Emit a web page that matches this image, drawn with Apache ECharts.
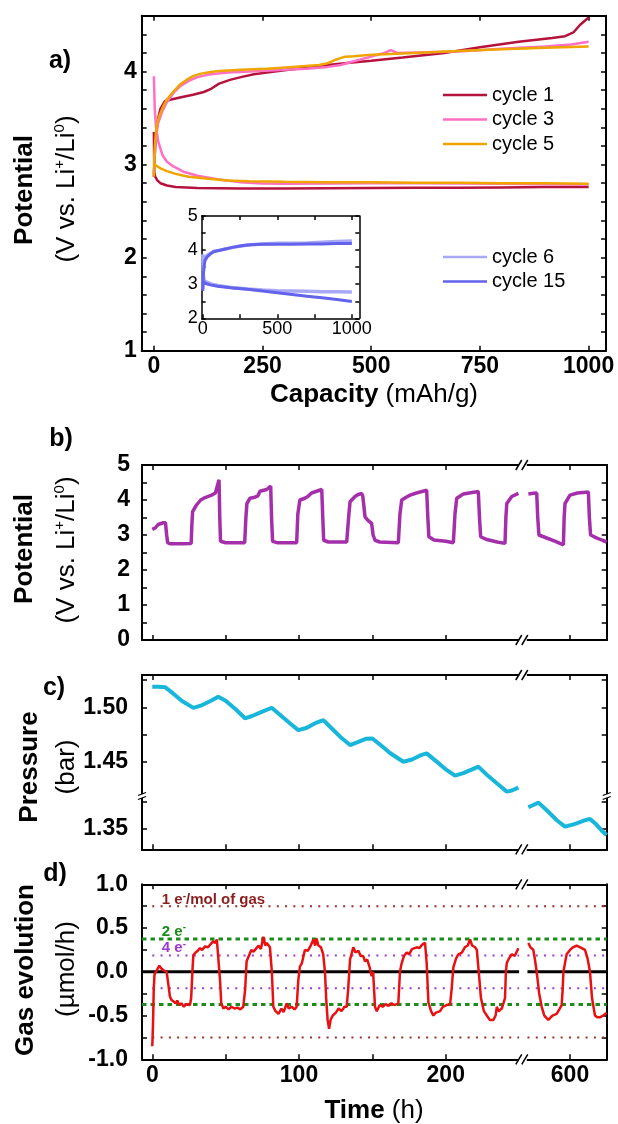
<!DOCTYPE html>
<html><head><meta charset="utf-8">
<script src="https://cdn.jsdelivr.net/npm/echarts@6/dist/echarts.min.js"></script>
<style>html,body{margin:0;padding:0;background:#fff}#c{width:618px;height:1124px}</style>
</head><body><div id="c"></div>
<script>
// ---------------- DATA ----------------
// Panel a: capacity (mAh/g) vs potential (V)
const c1Dis = [[0,3.35],[0.5,3.1],[1,2.92],[3,2.87],[8,2.83],[15,2.8],[30,2.775],[50,2.76],[100,2.748],[200,2.742],[300,2.742],[400,2.745],[500,2.748],[600,2.75],[700,2.752],[800,2.755],[900,2.758],[1000,2.76]];
const c1Chg = [[0,2.87],[1,3.0],[3,3.2],[6,3.38],[10,3.5],[15,3.6],[25,3.68],[40,3.7],[60,3.72],[90,3.75],[115,3.78],[130,3.81],[150,3.87],[175,3.91],[200,3.94],[230,3.97],[260,3.99],[300,4.015],[350,4.04],[400,4.07],[450,4.095],[500,4.115],[572,4.15],[668,4.2],[750,4.26],[839,4.32],[916,4.36],[946,4.38],[965,4.42],[980,4.5],[1000,4.58]];
const c3Dis = [[0,3.95],[2,3.6],[5,3.4],[10,3.25],[20,3.1],[30,3.03],[45,2.98],[70,2.92],[100,2.88],[150,2.84],[200,2.81],[250,2.797],[300,2.795],[400,2.798],[500,2.8],[600,2.8],[700,2.798],[800,2.795],[900,2.79],[1000,2.785]];
const c3Chg = [[0,2.9],[2,3.1],[5,3.3],[10,3.45],[20,3.58],[30,3.67],[45,3.77],[60,3.84],[80,3.9],[100,3.94],[130,3.97],[170,3.99],[220,4.0],[300,4.02],[350,4.03],[400,4.05],[430,4.07],[460,4.11],[500,4.16],[530,4.2],[545,4.23],[560,4.2],[600,4.205],[700,4.215],[800,4.245],[900,4.27],[960,4.29],[1000,4.32]];
const c5Dis = [[0,3.0],[5,2.99],[15,2.96],[30,2.93],[50,2.9],[80,2.87],[120,2.85],[170,2.83],[220,2.82],[300,2.815],[400,2.81],[500,2.81],[600,2.805],[700,2.805],[800,2.8],[900,2.8],[1000,2.795]];
const c5Chg = [[0,2.87],[1,3.1],[3,3.25],[6,3.41],[12,3.52],[21,3.62],[30,3.7],[44,3.78],[60,3.86],[75,3.91],[90,3.95],[106,3.975],[130,3.995],[152,4.007],[200,4.02],[260,4.03],[320,4.05],[380,4.07],[400,4.09],[420,4.13],[440,4.16],[460,4.165],[500,4.18],[600,4.2],[700,4.22],[800,4.24],[900,4.255],[1000,4.27]];
// inset
const c6Chg = [[0,2.85],[3,3.3],[8,3.6],[15,3.75],[30,3.85],[50,3.9],[80,3.97],[120,4.0],[200,4.08],[300,4.15],[400,4.18],[500,4.2],[600,4.2],[700,4.21],[800,4.23],[900,4.25],[1000,4.27]];
const c6Dis = [[0,3.88],[3,3.3],[10,3.1],[30,3.05],[60,3.0],[100,2.96],[200,2.9],[300,2.86],[400,2.83],[500,2.81],[600,2.8],[700,2.79],[800,2.78],[900,2.78],[1000,2.77]];
const c15Chg = [[0,2.8],[3,3.2],[8,3.5],[15,3.7],[30,3.8],[50,3.88],[70,3.95],[100,3.98],[150,4.03],[200,4.08],[260,4.13],[320,4.16],[400,4.17],[500,4.17],[600,4.17],[700,4.18],[800,4.18],[900,4.19],[1000,4.19]];
const c15Dis = [[0,3.1],[5,3.05],[20,3.02],[50,2.98],[100,2.94],[200,2.89],[300,2.85],[400,2.8],[500,2.75],[600,2.7],[700,2.65],[800,2.6],[900,2.55],[1000,2.49]];

// Panel b: time (h) vs potential (V); left and right of the axis break
const potL = [[0,3.16],[2,3.2],[4,3.3],[7.5,3.35],[9,3.35],[9.8,3.0],[10.5,2.78],[12,2.75],[20,2.75],[26.5,2.76],[27,3.3],[27.5,3.67],[30,3.85],[33,4.0],[36,4.07],[40,4.13],[43,4.2],[44,4.35],[45.5,4.58],[46,3.5],[46.5,2.82],[50,2.78],[63,2.78],
[63.8,3.5],[64.5,3.9],[66.6,4.05],[70,4.08],[72,4.12],[73.4,4.25],[78,4.3],[80.7,4.4],[81.3,3.5],[82,2.82],[85,2.78],[98.4,2.78],
[99.2,3.6],[100.6,4.0],[104,4.05],[106,4.1],[108.6,4.2],[112,4.25],[115.5,4.3],[116.2,3.5],[116.8,2.85],[120,2.8],[132.5,2.8],
[134,3.6],[134.8,3.95],[138.2,4.1],[140,4.15],[142.7,4.19],[143.5,4.1],[145,3.52],[147,3.42],[149.5,3.33],[150.5,3.0],[151.8,2.85],[155,2.8],[167.7,2.78],
[168.8,3.6],[170,4.0],[173,4.08],[175.7,4.14],[180,4.2],[187,4.28],[187.8,3.5],[188.5,2.95],[192,2.86],[200,2.82],[205.2,2.78],
[206.3,3.6],[207.5,4.05],[212,4.17],[216,4.2],[222.2,4.24],[223,3.5],[223.8,2.95],[228,2.87],[235,2.8],[240.4,2.76],
[241,3.5],[241.6,3.9],[245,4.1],[249.5,4.19]];
const potR = [[571.6,4.17],[575,4.19],[577.3,4.2],[578,3.5],[578.8,3.0],[585,2.9],[590,2.82],[595.5,2.72],
[596,3.5],[596.6,3.9],[600,4.14],[605,4.2],[612.5,4.23],[613.2,3.5],[614,3.0],[618,2.92],[622,2.85],[625,2.8]];

// Panel c: pressure (bar)
const presL = [[0,1.519],[4,1.519],[8.7,1.5185],[14,1.513],[20,1.506],[28,1.4995],[33,1.5015],[40,1.506],[45,1.5097],[50,1.506],[57,1.498],[63.2,1.4899],[68,1.492],[75,1.496],[81.4,1.4996],[88,1.492],[95,1.484],[99.5,1.479],[105,1.481],[112,1.486],[116.6,1.4883],[122,1.481],[128,1.473],[134.8,1.4653],[140,1.468],[146,1.4712],[150,1.4713],[155,1.466],[162,1.458],[171.1,1.45],[177,1.452],[183,1.456],[187,1.4577],[193,1.451],[200,1.443],[206.3,1.4372],[212,1.4395],[218,1.443],[222.2,1.4455],[228,1.438],[235,1.43],[241.6,1.4225],[245,1.4235],[249.5,1.4262]];
const presR = [[571.6,1.3699],[575,1.372],[578.5,1.3742],[585,1.366],[591,1.358],[596.6,1.3521],[603,1.3545],[609,1.3575],[613.6,1.3592],[618,1.354],[622,1.348],[625,1.3445]];

// Panel d: gas evolution (µmol/h)
const gasL = [[0,-0.85],[0.5,-0.6],[1,-0.2],[1.5,-0.03],[2.5,-0.01],[3.5,0.03],[4.8,0.07],[6,0.04],[7.5,0.02],[8.5,0.03],[9.8,0.0],[11,-0.15],[12,-0.28],[13,-0.32],[14.3,-0.34],[16,-0.36],[17,-0.33],[18.5,-0.38],[20,-0.36],[21.5,-0.4],[23,-0.37],[24,-0.35],[25.7,-0.38],[26.5,-0.3],[27.5,0.05],[28,0.19],[29.5,0.22],[31,0.24],[32.5,0.27],[34,0.25],[36,0.29],[38,0.28],[40,0.32],[41.6,0.35],[43,0.33],[44,0.37],[45,0.35],[46.2,-0.1],[47,-0.36],[48.5,-0.42],[50,-0.4],[52,-0.43],[54,-0.4],[56,-0.42],[58,-0.41],[60,-0.43],[62,-0.4],[63.3,-0.2],[64.3,0.12],[66,0.19],[67.5,0.25],[69,0.23],[71,0.27],[72.5,0.3],[74,0.26],[75.7,0.4],[77,0.3],[78,0.33],[80.2,0.28],[81.5,0.0],[82.5,-0.4],[84,-0.45],[86,-0.48],[88,-0.42],[89.5,-0.46],[91.6,-0.36],[93,-0.42],[95,-0.4],[97,-0.43],[98.4,-0.4],[99.5,-0.1],[100.6,0.06],[102,0.1],[104,0.25],[106,0.24],[108,0.3],[109.8,0.37],[111,0.3],[112,0.38],[113.2,0.3],[115,0.28],[116.5,0.2],[117.7,0.0],[118.5,-0.3],[119.5,-0.55],[120.5,-0.65],[121.5,-0.55],[123,-0.5],[125,-0.47],[127,-0.42],[129,-0.45],[131,-0.4],[132.5,-0.4],[133.5,-0.2],[134.8,0.14],[137,0.28],[138.5,0.22],[140.5,0.24],[142,0.18],[143.8,0.18],[145,0.12],[146.5,0.14],[148,0.06],[149.5,-0.05],[150.5,0.0],[151.8,-0.4],[153,-0.45],[155,-0.38],[157,-0.4],[159,-0.37],[161,-0.39],[163,-0.36],[165,-0.38],[167.7,-0.36],[168.8,0.0],[170,0.1],[171.5,0.18],[173.4,0.22],[175,0.2],[177,0.26],[180.2,0.28],[182,0.27],[184,0.31],[185.9,0.33],[187,0.1],[188.2,-0.35],[190,-0.45],[191.6,-0.5],[193,-0.47],[196.1,-0.45],[198,-0.4],[200.6,-0.38],[203,-0.37],[204,-0.2],[205.2,0.05],[207,0.15],[208.6,0.2],[211,0.22],[213,0.28],[215,0.3],[216.6,0.37],[218,0.3],[220,0.28],[221.2,0.25],[222.5,0.0],[224,-0.3],[226,-0.45],[228,-0.5],[230,-0.55],[232.5,-0.55],[234,-0.5],[234.8,-0.4],[236,-0.45],[238.2,-0.42],[239.5,-0.35],[240.4,-0.3],[241,0.0],[241.6,0.1],[243,0.15],[245,0.2],[247,0.18],[249.5,0.27]];
const gasR = [[571.6,0.33],[573,0.28],[575,0.25],[576,0.15],[577.3,0.0],[579,-0.25],[580.7,-0.4],[582.5,-0.5],[585.2,-0.55],[588,-0.5],[590.9,-0.48],[593,-0.42],[594.3,-0.38],[595,-0.2],[595.5,0.0],[597.7,0.2],[600,0.25],[602,0.28],[604.5,0.3],[607,0.28],[610.2,0.25],[612,0.15],[613.6,0.0],[615,-0.3],[617,-0.5],[618.5,-0.52],[620.4,-0.52],[622.5,-0.5],[625,-0.47]];

// reference levels in panel d (µmol/h)
const lvl1e = [0.75, -0.75];
const lvl2e = [0.375, -0.375];
const lvl4e = [0.1875, -0.1875];
const lvlZero = [0];

// ticks / labels
const capTicks = [0,250,500,750,1000];
const potATicks = [1,1.2,1.4,1.6,1.8,2,2.2,2.4,2.6,2.8,3,3.2,3.4,3.6,3.8,4,4.2,4.4];
const potALabels = [1,2,3,4];
const insXTicks = [0,250,500,750,1000];
const insXLabels = [0,500,1000];
const insYTicks = [2,2.5,3,3.5,4,4.5,5];
const insYLabels = [2,3,4,5];
const timeTicks = [0,50,100,150,200,600];
const timeLabels = [0,100,200,600];
const potBTicks = [0,0.5,1,1.5,2,2.5,3,3.5,4,4.5,5];
const potBLabels = [0,1,2,3,4,5];
const presTicks = [1.35,1.375,1.45,1.475,1.5,1.525];
const presLabels = [1.35,1.45,1.5];
const gasTicks = [-1,-0.75,-0.5,-0.25,0,0.25,0.5,0.75,1];
const gasLabels = [-1,-0.5,0,0.5,1];
const timeBreak = {start: 252.5, end: 567.8};
const presBreak = {start: 1.3803, end: 1.4185};

// ---------------- CHART ----------------
const FONT = 'Liberation Sans, Arial, sans-serif';
const chart = echarts.init(document.getElementById('c'), null, {renderer: 'canvas'});

const grids = [
  {left: 141.7, top: 15.7, width: 464.3, height: 335},
  {left: 201.7, top: 216, width: 157.6, height: 102.3},
  {left: 142, top: 465, width: 464.7, height: 175},
  {left: 142, top: 675, width: 464.7, height: 174.3},
  {left: 142, top: 884.3, width: 464.7, height: 175}
].map(g => Object.assign({containLabel: false, show: false}, g));

function axisPair(kind, gridIndex, cfg) {
  const base = {
    type: 'value', gridIndex: gridIndex, min: cfg.min, max: cfg.max,
    axisLine: {show: true, onZero: false, lineStyle: {color: '#000', width: cfg.lw || 2}},
    axisTick: {show: true, inside: true, length: cfg.tl || 5, customValues: cfg.ticks, lineStyle: {color: '#000', width: 1.5}},
    splitLine: {show: false}, splitArea: {show: false}
  };
  if (cfg.brk) { base.breaks = [{start: cfg.brk.start, end: cfg.brk.end, gap: 0}]; base.breakArea = {show: false}; }
  const main = Object.assign({}, base, {
    position: kind === 'x' ? 'bottom' : 'left',
    axisLabel: {show: true, customValues: cfg.labels, formatter: cfg.fmt, fontSize: cfg.fs || 23,
      fontWeight: cfg.fw || 'bold', fontFamily: FONT, color: '#000', margin: cfg.margin}
  });
  const mirror = Object.assign({}, base, {position: kind === 'x' ? 'top' : 'right', axisLabel: {show: false}});
  return [main, mirror];
}
const f0 = v => String(Math.round(v));
const f1 = v => v.toFixed(1);
const f2 = v => v.toFixed(2);

const xAxes = [].concat(
  axisPair('x', 0, {min: -28, max: 1040, ticks: capTicks, labels: capTicks, fmt: f0, margin: 4}),
  axisPair('x', 1, {min: -7, max: 1050, ticks: insXTicks, labels: insXLabels, fmt: f0, fs: 18, fw: 'normal', margin: 2, lw: 1.5, tl: 4}),
  axisPair('x', 2, {min: -7, max: 625, ticks: timeTicks, labels: timeLabels, fmt: f0, brk: timeBreak, margin: 5}),
  axisPair('x', 3, {min: -7, max: 625, ticks: timeTicks, labels: timeLabels, fmt: f0, brk: timeBreak, margin: 5}),
  axisPair('x', 4, {min: -7, max: 625, ticks: timeTicks, labels: timeLabels, fmt: f0, brk: timeBreak, margin: 5})
);
xAxes[6].axisLabel.show = false; // panel c bottom labels hidden
xAxes[4].axisLabel.show = false; // panel b bottom labels hidden
const yAxes = [].concat(
  axisPair('y', 0, {min: 1, max: 4.6, ticks: potATicks, labels: potALabels, fmt: f0, margin: 5}),
  axisPair('y', 1, {min: 2, max: 5, ticks: insYTicks, labels: insYLabels, fmt: f0, fs: 18, fw: 'normal', margin: 4, lw: 1.5, tl: 4}),
  axisPair('y', 2, {min: 0, max: 5, ticks: potBTicks, labels: potBLabels, fmt: f0, margin: 12}),
  axisPair('y', 3, {min: 1.3313, max: 1.5297, ticks: presTicks, labels: presLabels, fmt: f2, brk: presBreak, margin: 14}),
  axisPair('y', 4, {min: -1, max: 1, ticks: gasTicks, labels: gasLabels, fmt: f1, margin: 14})
);

function joinSeg(a, b) { return a.concat([[a[a.length - 1][0], '-']], b); }
function line(name, xi, data, color, width, z, extra) {
  return Object.assign({
    name: name, type: 'line', xAxisIndex: xi, yAxisIndex: xi, data: data,
    symbol: 'none', showSymbol: false, connectNulls: false, z: z || 2, silent: true,
    lineStyle: {color: color, width: width}, itemStyle: {color: color}
  }, extra || {});
}
// horizontal guide across the two visible time segments
const segL = [-7, 250], segL0 = [0, 250], segR = [571, 625];
function guide(levels, xl) {
  let out = [];
  levels.forEach((v, i) => {
    if (i > 0) out.push([segR[1], '-']);
    out.push([xl[0], v], [xl[1], v], [xl[1], '-'], [segR[0], v], [segR[1], v]);
  });
  return out;
}

const series = [
  line('cycle 1', 0, joinSeg(c1Dis, c1Chg), '#B5123D', 2.5, 3),
  line('cycle 3', 0, joinSeg(c3Dis, c3Chg), '#FF6FC4', 2.5, 4),
  line('cycle 5', 0, joinSeg(c5Dis, c5Chg), '#EFA500', 2.5, 5),
  line('cycle 6', 2, joinSeg(c6Dis, c6Chg), '#A8A8F6', 3.5, 6),
  line('cycle 15', 2, joinSeg(c15Dis, c15Chg), '#6262EC', 3, 7),
  line('pot', 4, joinSeg(potL, potR), '#A52FAA', 3.5, 3),
  line('pres', 6, joinSeg(presL, presR), '#17B6DA', 4, 3),
  line('g1', 8, guide(lvl1e, segL0), '#9B2D2D', 1.5, 2, {lineStyle: {color: '#9B2D2D', width: 2, type: [2, 6.3]}}),
  line('g4', 8, guide(lvl4e, segL0), '#9E3ACF', 1.5, 2, {lineStyle: {color: '#9E3ACF', width: 2, type: [2, 6.3]}}),
  line('g2', 8, guide(lvl2e, segL), '#1C8C1C', 3, 2, {lineStyle: {color: '#1C8C1C', width: 3, type: [4.5, 4]}}),
  line('g0', 8, guide(lvlZero, segL), '#000', 3, 2),
  line('gas', 8, joinSeg(gasL, gasR), '#E81010', 2.5, 4)
];

const legendText = {fontSize: 20, fontFamily: FONT, color: '#000'};
const legendBase = {orient: 'vertical', left: 443, itemWidth: 44, itemHeight: 2.5, icon: 'rect', itemGap: 4.5, textStyle: legendText, selectedMode: false, padding: 0};
chart.setOption({
  animation: false,
  backgroundColor: '#fff',
  grid: grids,
  xAxis: xAxes,
  yAxis: yAxes,
  legend: [
    Object.assign({data: ['cycle 1', 'cycle 3', 'cycle 5'], top: 85}, legendBase),
    Object.assign({data: ['cycle 6', 'cycle 15'], top: 247}, legendBase)
  ],
  series: series
});

// ---------------- TEXT & BREAK MARKS ----------------
const g = [];
const richT = {
  b: {fontSize: 26, fontWeight: 'bold', fontFamily: FONT, fill: '#000', color: '#000', lineHeight: 30},
  n: {fontSize: 26, fontWeight: 'normal', fontFamily: FONT, fill: '#000', color: '#000', lineHeight: 30},
  s: {fontSize: 15, fontWeight: 'normal', fontFamily: FONT, fill: '#000', color: '#000', lineHeight: 14, verticalAlign: 'top'}
};
function txt(x, y, text, rot, align, rich, extra) {
  g.push({type: 'text', x: x, y: y, rotation: rot || 0, z: 100, silent: true,
    style: Object.assign({text: text, rich: rich, fontFamily: FONT, fill: '#000',
      align: align || 'center', verticalAlign: 'middle', textAlign: align || 'center', textVerticalAlign: 'middle'}, extra || {})});
}
const R = Math.PI / 2;
const yUnit = '{n|(V vs. Li}{s|+}{n|/Li}{s|0}{n|)}';
txt(25, 190, '{b|Potential}', R, 'center', richT);
txt(67, 189, yUnit, R, 'center', richT);
txt(25, 549, '{b|Potential}', R, 'center', richT);
txt(67, 550, yUnit, R, 'center', richT);
txt(30, 767, '{b|Pressure}', R, 'center', richT);
txt(67, 767, '{n|(bar)}', R, 'center', richT);
txt(26, 970, '{b|Gas evolution}', R, 'center', richT);
txt(67, 969, '{n|(µmol/h)}', R, 'center', richT);
txt(374, 395, '{b|Capacity}{n| (mAh/g)}', 0, 'center', richT);
txt(374, 1111, '{b|Time}{n| (h)}', 0, 'center', richT);
const richP = {b: {fontSize: 25, fontWeight: 'bold', fontFamily: FONT, fill: '#000', color: '#000'}};
txt(60, 61, '{b|a)}', 0, 'center', richP);
txt(61, 439, '{b|b)}', 0, 'center', richP);
txt(54, 688, '{b|c)}', 0, 'center', richP);
txt(55, 874, '{b|d)}', 0, 'center', richP);

// annotations in panel d
function ann(val, label, color) {
  const p = chart.convertToPixel({xAxisIndex: 8, yAxisIndex: 8}, [6.5, val]);
  const rich = {
    n: {fontSize: 15, fontWeight: 'bold', fontFamily: FONT, fill: color, color: color, lineHeight: 18},
    s: {fontSize: 10, fontWeight: 'bold', fontFamily: FONT, fill: color, color: color, lineHeight: 9, verticalAlign: 'top'}
  };
  txt(p[0], p[1], label, 0, 'left', rich);
}
ann(0.82, '{n|1 e}{s|-}{n|/mol of gas}', '#8B1F1F');
ann(0.46, '{n|2 e}{s|-}', '#1C8C1C');
ann(0.27, '{n|4 e}{s|-}', '#9E3ACF');

// x-break marks (//) on panels b, c, d
[4, 6, 8].forEach(xi => {
  const gi = xi / 2;
  const bx = chart.convertToPixel({xAxisIndex: xi}, timeBreak.start);
  [grids[gi].top, grids[gi].top + grids[gi].height].forEach(yy => {
    g.push({type: 'rect', z: 110, silent: true, shape: {x: bx - 4, y: yy - 3, width: 8, height: 6}, style: {fill: '#fff'}});
    g.push({type: 'line', z: 111, silent: true, shape: {x1: bx - 7, y1: yy + 5, x2: bx - 1, y2: yy - 5}, style: {stroke: '#000', lineWidth: 1.5}});
    g.push({type: 'line', z: 111, silent: true, shape: {x1: bx - 1, y1: yy + 5, x2: bx + 5, y2: yy - 5}, style: {stroke: '#000', lineWidth: 1.5}});
  });
});
// y-break marks on panel c
(function () {
  const by = chart.convertToPixel({yAxisIndex: 6}, presBreak.start);
  [grids[3].left, grids[3].left + grids[3].width].forEach(xx => {
    g.push({type: 'rect', z: 110, silent: true, shape: {x: xx - 3, y: by - 2, width: 6, height: 4}, style: {fill: '#fff'}});
    g.push({type: 'line', z: 111, silent: true, shape: {x1: xx - 4, y1: by - 0.5, x2: xx + 4, y2: by - 3.5}, style: {stroke: '#000', lineWidth: 1.3}});
    g.push({type: 'line', z: 111, silent: true, shape: {x1: xx - 4, y1: by + 3.5, x2: xx + 4, y2: by + 0.5}, style: {stroke: '#000', lineWidth: 1.3}});
  });
})();

chart.setOption({graphic: g});
</script>
</body></html>
